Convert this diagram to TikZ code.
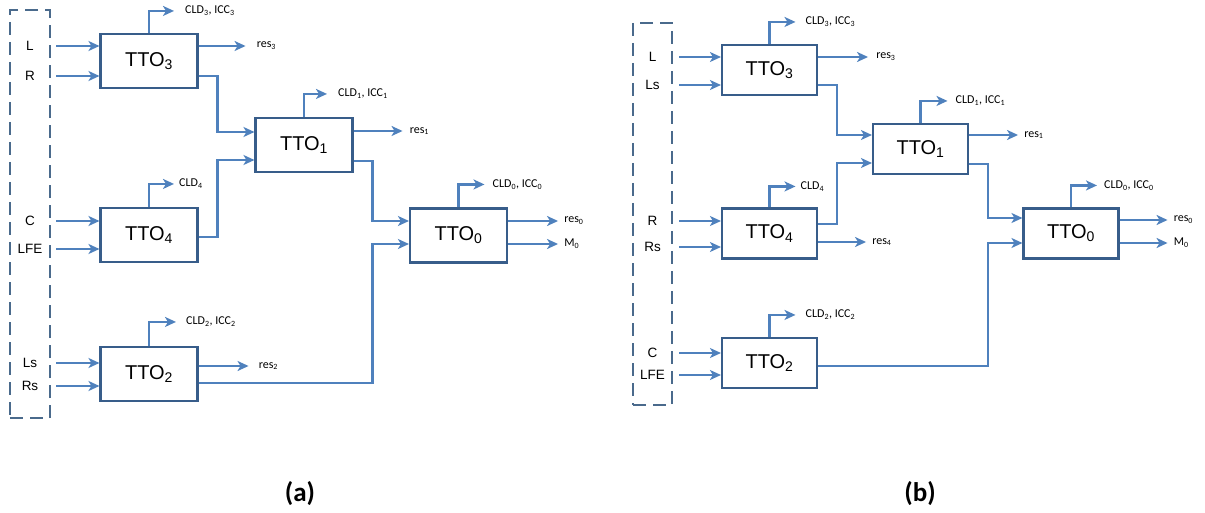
\documentclass[tikz,border=0pt]{standalone}
\usepackage{fontspec}
\setmainfont{Liberation Sans}
\newfontfamily\lblfont{Carlito}
\usetikzlibrary{arrows.meta,positioning}
\definecolor{flowblue}{HTML}{4F81BD}
\definecolor{boxblue}{HTML}{385D8A}
\definecolor{dashblue}{HTML}{4A6A8C}
\tikzset{
  tto/.style={rectangle,draw=boxblue,line width=2.1pt,minimum width=97pt,minimum height=54pt,inner sep=0pt,font=\fontsize{20}{24}\selectfont},
  chbox/.style={draw=dashblue,line width=2.3pt,dash pattern=on 13pt off 7pt,inner sep=0pt},
  chan/.style={font=\fontsize{13.5}{15}\selectfont,inner sep=0pt},
  flow/.style={-{Stealth[length=11pt,width=10pt,inset=3pt]},flowblue,line width=2.6pt},
  sig/.style={font=\lblfont\fontsize{12}{14}\selectfont,inner sep=1pt},
  subcap/.style={font=\lblfont\bfseries\fontsize{27}{30}\selectfont},
}
\begin{document}
\begin{tikzpicture}[x=1pt,y=-1pt]
\useasboundingbox (0,0) rectangle (1205,513);
% (a)
\node[chbox,minimum width=40pt,minimum height=408pt] (dsa) at (30,214) {};
\node[tto] (a3) at (149,61) {TTO\textsubscript{3}};
\node[tto] (a1) at (304,145) {TTO\textsubscript{1}};
\node[tto] (a0) at (458.5,235.5) {TTO\textsubscript{0}};
\node[tto] (a4) at (149,235) {TTO\textsubscript{4}};
\node[tto] (a2) at (149,374) {TTO\textsubscript{2}};
\foreach \nm/\yy/\tgt in {L/46/a3,R/76/a3,C/221/a4,LFE/249/a4,Ls/363/a2,Rs/386/a2}{
  \node[chan] (a\nm) at (30,\yy) {\nm};
  \draw[flow] ([xshift=5pt]dsa.east |- a\nm) -- (\tgt.west |- a\nm);
}
\draw[flow] ([yshift=-15pt]a3.east) -- ++(19,0) |- ([yshift=13pt]a1.west);
\draw[flow] ([yshift=-2pt]a4.east) -- ++(19,0) |- ([yshift=-15pt]a1.west);
\draw[flow] ([yshift=-16pt]a1.east) -- ++(19,0) |- ([yshift=14.5pt]a0.west);
\draw[flow] ([yshift=-9pt]a2.east) -- ++(174,0) |- ([yshift=-8.5pt]a0.west);
\draw[flow] (a3.north) |- ++(25,-22) coordinate (a3c);
\node[sig,right=10pt of a3c] (a3cl) {CLD\textsubscript{3}, ICC\textsubscript{3}};
\draw[flow] ([yshift=15pt]a3.east) -- ++(47,0) coordinate (a3r);
\node[sig,right=10pt of a3r] (a3rl) {res\textsubscript{3}};
\draw[flow] (a1.north) |- ++(23,-23) coordinate (a1c);
\node[sig,right=10pt of a1c] (a1cl) {CLD\textsubscript{1}, ICC\textsubscript{1}};
\draw[flow] ([yshift=14pt]a1.east) -- ++(49,0) coordinate (a1r);
\node[sig,right=6pt of a1r] (a1rl) {res\textsubscript{1}};
\draw[flow] (a0.north) |- ++(26,-23) coordinate (a0c);
\node[sig,right=7pt of a0c] (a0cl) {CLD\textsubscript{0}, ICC\textsubscript{0}};
\draw[flow] ([yshift=14.5pt]a0.east) -- ++(50,0) coordinate (a0r);
\node[sig,right=5pt of a0r] (a0rl) {res\textsubscript{0}};
\draw[flow] ([yshift=-8.5pt]a0.east) -- ++(50,0) coordinate (a0m);
\node[sig,right=5pt of a0m] (a0ml) {M\textsubscript{0}};
\draw[flow] (a4.north) |- ++(25,-23) coordinate (a4c);
\node[sig,right=4pt of a4c] (a4cl) {CLD\textsubscript{4}};
\draw[flow] (a2.north) |- ++(27,-24) coordinate (a2c);
\node[sig,right=9pt of a2c] (a2cl) {CLD\textsubscript{2}, ICC\textsubscript{2}};
\draw[flow] ([yshift=8pt]a2.east) -- ++(50,0) coordinate (a2r);
\node[sig,right=9pt of a2r] (a2rl) {res\textsubscript{2}};
\node[subcap] (capa) at (300,494) {(a)};
% (b)
\begin{scope}[tto/.append style={minimum width=95pt,minimum height=50pt}]
\node[chbox,minimum width=39pt,minimum height=382pt] (dsb) at (652.5,214) {};
\node[tto] (b3) at (769.5,70) {TTO\textsubscript{3}};
\node[tto] (b1) at (920.5,149) {TTO\textsubscript{1}};
\node[tto] (b0) at (1071,233.5) {TTO\textsubscript{0}};
\node[tto] (b4) at (769.5,233.5) {TTO\textsubscript{4}};
\node[tto] (b2) at (769.5,363) {TTO\textsubscript{2}};
\foreach \nm/\yy/\tgt in {L/57/b3,Ls/85/b3,R/221/b4,Rs/247/b4,C/353/b2,LFE/375/b2}{
  \node[chan] (b\nm) at (652.5,\yy) {\nm};
  \draw[flow] ([xshift=6pt]dsb.east |- b\nm) -- (\tgt.west |- b\nm);
}
\draw[flow] ([yshift=-15pt]b3.east) -- ++(19,0) |- ([yshift=14pt]b1.west);
\draw[flow] ([yshift=9.5pt]b4.east) -- ++(19,0) |- ([yshift=-14pt]b1.west);
\draw[flow] ([yshift=-15pt]b1.east) -- ++(19,0) |- ([yshift=15.5pt]b0.west);
\draw[flow] ([yshift=-3pt]b2.east) -- ++(170,0) |- ([yshift=-9.5pt]b0.west);
\draw[flow] (b3.north) |- ++(26,-22) coordinate (b3c);
\node[sig,right=9pt of b3c] (b3cl) {CLD\textsubscript{3}, ICC\textsubscript{3}};
\draw[flow] ([yshift=13pt]b3.east) -- ++(50,0) coordinate (b3r);
\node[sig,right=7pt of b3r] (b3rl) {res\textsubscript{3}};
\draw[flow] (b1.north) |- ++(27,-22) coordinate (b1c);
\node[sig,right=7pt of b1c] (b1cl) {CLD\textsubscript{1}, ICC\textsubscript{1}};
\draw[flow] ([yshift=14pt]b1.east) -- ++(49,0) coordinate (b1r);
\node[sig,right=5pt of b1r] (b1rl) {res\textsubscript{1}};
\draw[flow] (b0.north) |- ++(26,-22) coordinate (b0c);
\node[sig,right=6pt of b0c] (b0cl) {CLD\textsubscript{0}, ICC\textsubscript{0}};
\draw[flow] ([yshift=13.5pt]b0.east) -- ++(48,0) coordinate (b0r);
\node[sig,right=5pt of b0r] (b0rl) {res\textsubscript{0}};
\draw[flow] ([yshift=-9.5pt]b0.east) -- ++(48,0) coordinate (b0m);
\node[sig,right=5pt of b0m] (b0ml) {M\textsubscript{0}};
\draw[flow] (b4.north) |- ++(26,-21) coordinate (b4c);
\node[sig,right=4pt of b4c] (b4cl) {CLD\textsubscript{4}};
\draw[flow] ([yshift=-8.5pt]b4.east) -- ++(48,0) coordinate (b4r);
\node[sig,right=5pt of b4r] (b4rl) {res\textsubscript{4}};
\draw[flow] (b2.north) |- ++(26,-22) coordinate (b2c);
\node[sig,right=9pt of b2c] (b2cl) {CLD\textsubscript{2}, ICC\textsubscript{2}};
\end{scope}
\node[subcap] (capb) at (920,494) {(b)};
\end{tikzpicture}
\end{document}
